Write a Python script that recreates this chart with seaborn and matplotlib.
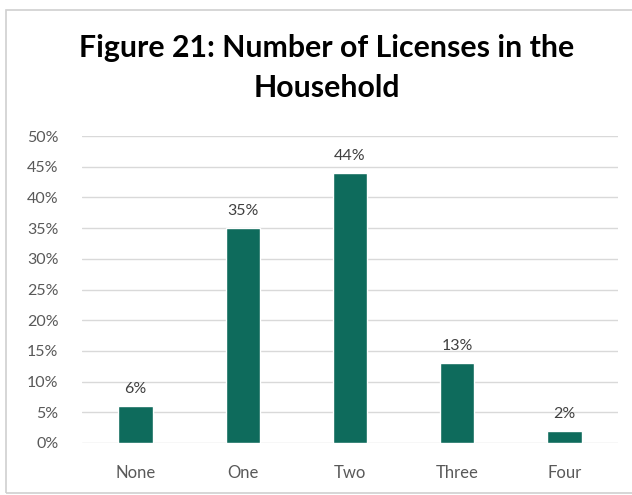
import matplotlib
matplotlib.use("Agg")
import matplotlib.pyplot as plt
import seaborn as sns
import pandas as pd
from matplotlib.patches import Rectangle

categories = ["None", "One", "Two", "Three", "Four"]
shares = [6, 35, 44, 13, 2]
y_ticks = [0, 5, 10, 15, 20, 25, 30, 35, 40, 45, 50]
title = "Figure 21: Number of Licenses in the\nHousehold"

sns.set_theme(style="white")
plt.rcParams["font.family"] = ["Lato", "DejaVu Sans"]

df = pd.DataFrame({"category": categories, "share": shares})

fig = plt.figure(figsize=(6.32, 4.95), dpi=100)
ax = fig.add_axes([82 / 632, 1 - 443 / 495, 536 / 632, 307 / 495])

sns.barplot(data=df, x="category", y="share", color="#0E6B5C",
            width=0.32, saturation=1, ax=ax, zorder=3)

ax.set_ylim(0, 50)
ax.set_xlim(-0.5, len(categories) - 0.5)
ax.set_yticks(y_ticks)
ax.set_yticklabels([f"{t}%" for t in y_ticks])
ax.yaxis.grid(True, color="#D9D9D9", linewidth=1.0, zorder=0)
ax.set_axisbelow(True)
for s in ax.spines.values():
    s.set_visible(False)
ax.set_xlabel("")
ax.set_ylabel("")
ax.tick_params(axis="y", colors="#595959", labelsize=11.5, length=0, pad=17)
ax.tick_params(axis="x", colors="#595959", labelsize=12, length=0, pad=16)

for i, v in enumerate(shares):
    ax.text(i, v + 1.6, f"{v}%", ha="center", va="bottom",
            fontsize=11.5, color="#404040")

fig.text(327 / 632, 1 - 68 / 495, title, ha="center", va="center",
         fontsize=21.8, fontweight="bold", color="#000000", linespacing=1.5)

fig.patches.append(Rectangle((6 / 632, 2 / 495), 640 / 632, 483 / 495,
                             transform=fig.transFigure, fill=False,
                             edgecolor="#D0D0D0", linewidth=1.2))

fig.savefig("out.png", dpi=100)
